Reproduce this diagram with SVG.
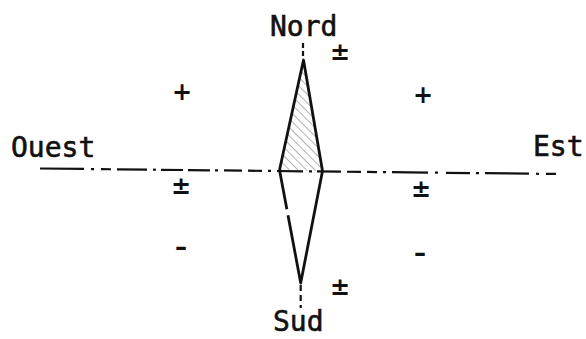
<svg xmlns="http://www.w3.org/2000/svg" width="586" height="339" viewBox="0 0 586 339">
<style>
.lbl{font-family:"DejaVu Sans Mono","Liberation Mono",monospace;font-size:28px;fill:#111;stroke:#111;stroke-width:0.6}
.sgn{font-family:"DejaVu Sans","Liberation Sans",sans-serif;font-size:24px;font-weight:bold;fill:#111;text-anchor:middle}
.axis{stroke:#111;stroke-width:2.2;fill:none}
.edge{stroke:#111;stroke-width:2.8;fill:none;stroke-linejoin:round}
</style>
<defs>
<pattern id="hatch" width="6" height="6" patternUnits="userSpaceOnUse" patternTransform="rotate(-45)">
<line x1="0" y1="0" x2="0" y2="6" stroke="#555" stroke-width="0.9"/>
</pattern>
</defs>
<g id="connectors">
<path class="axis" d="M40 168.5 L560 174" stroke-dasharray="44 7 3 7 10 6 30 6 3 5 22 5 22 5 3 6 18 6 14 6 3 6 26 6 3 5 24 6 14 6 10 6 3 6 36 7 3 8 24 6 3 6"/>
<path class="axis" d="M303 43 L303 58" stroke-dasharray="5 3"/>
<path class="axis" d="M300.7 285 L300.7 308" stroke-dasharray="6 4"/>
</g>
<g id="needle">
<path d="M303.5 60 L279.5 170 L322.5 171 Z" fill="url(#hatch)"/>
<path class="edge" d="M279.5 170 L303.5 60 L322.5 171"/>
<path class="edge" d="M279.5 170 L300.7 283 L322.5 171" stroke-dasharray="40 6 200"/>
</g>
<g id="nord"><text class="lbl" x="270" y="36">Nord</text></g>
<g id="sud"><text class="lbl" x="273" y="331">Sud</text></g>
<g id="ouest"><text class="lbl" x="11" y="157">Ouest</text></g>
<g id="est"><text class="lbl" x="533" y="156">Est</text></g>
<g id="signs">
<text class="sgn" x="182" y="100">+</text>
<text class="sgn" x="423" y="103">+</text>
<text class="sgn" x="181" y="194">±</text>
<text class="sgn" x="421" y="197">±</text>
<text class="sgn" x="340" y="60">±</text>
<text class="sgn" x="340" y="295">±</text>
<text class="sgn" x="181" y="255">–</text>
<text class="sgn" x="420" y="261">–</text>
</g>
</svg>
